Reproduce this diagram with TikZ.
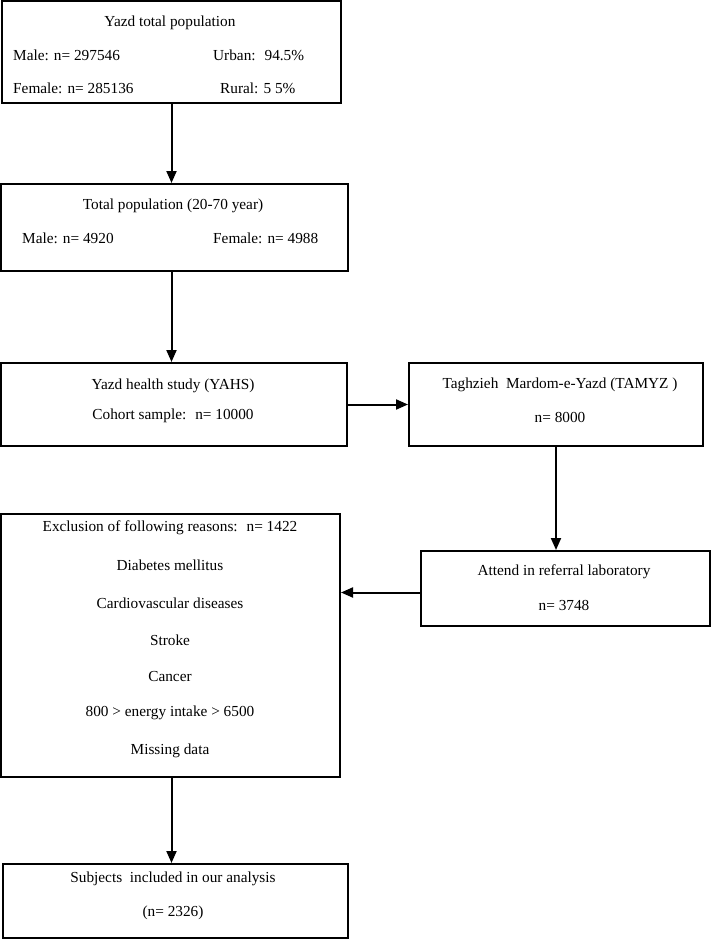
\documentclass[tikz,border=0pt]{standalone}
\usepackage{fontspec}
\setmainfont{Liberation Serif}
\usetikzlibrary{arrows.meta,positioning}

\tikzset{
  box/.style={draw, line width=2pt, inner sep=0pt, anchor=north west},
  lbl/.style={font=\fontsize{15.3}{17}\selectfont, inner sep=0pt},
  arr/.style={-{Triangle[length=12pt,width=10pt]}, line width=2pt}
}

\begin{document}
\begin{tikzpicture}[x=1pt,y=-1pt]
\useasboundingbox (0,0) rectangle (710,939);
% boxes
\node[box, minimum width=339pt, minimum height=102pt] (pop) at (1,0) {};
\node[box, minimum width=347pt, minimum height=87pt] (age) at (0,183) {};
\node[box, minimum width=346pt, minimum height=83pt] (yahs) at (0,362) {};
\node[box, minimum width=294pt, minimum height=83pt] (tamyz) at (408,362) {};
\node[box, minimum width=289pt, minimum height=75pt] (lab) at (420,550) {};
\node[box, minimum width=339pt, minimum height=263pt] (excl) at (0,513) {};
\node[box, minimum width=345pt, minimum height=74pt] (subj) at (2,863) {};
% texts
\node[lbl] (popt) at (170,23) {Yazd total population};
\node[lbl, anchor=west] (popm) at (13,55) {Male: n= 297546};
\node[lbl, anchor=west] (popu) at (213,55) {Urban:~ 94.5\%};
\node[lbl, anchor=west] (popf) at (13,88) {Female: n= 285136};
\node[lbl, anchor=west] (popr) at (220,88) {Rural: 5 5\%};
\node[lbl] (aget) at (173,206) {Total population (20-70 year)};
\node[lbl, anchor=west] (agem) at (22,238) {Male: n= 4920};
\node[lbl, anchor=west] (agef) at (213,238) {Female: n= 4988};
\node[lbl] (yahst) at (173,386) {Yazd health study (YAHS)};
\node[lbl] (yahsn) at (173,416) {Cohort sample:~ n= 10000};
\node[lbl] (tamyzt) at (560,385) {Taghzieh~ Mardom-e-Yazd (TAMYZ )};
\node[lbl] (tamyzn) at (560,417) {n= 8000};
\node[lbl] (labt) at (564,572) {Attend in referral laboratory};
\node[lbl] (labn) at (564,605) {n= 3748};
\node[lbl] (excl1) at (170,528) {Exclusion of following reasons:~ n= 1422};
\node[lbl] (excl2) at (170,565) {Diabetes mellitus};
\node[lbl] (excl3) at (170,603) {Cardiovascular diseases};
\node[lbl] (excl4) at (170,640) {Stroke};
\node[lbl] (excl5) at (170,677) {Cancer};
\node[lbl] (excl6) at (170,713) {800 > energy intake > 6500};
\node[lbl] (excl7) at (170,751) {Missing data};
\node[lbl] (subjt) at (173,879) {Subjects~ included in our analysis};
\node[lbl] (subjn) at (173,913) {(n= 2326)};
% arrows
\draw[arr] (pop.south) -- (pop.south |- age.north);
\draw[arr] (pop.south |- age.south) -- (pop.south |- yahs.north);
\draw[arr] (yahs.east) -- (tamyz.west);
\draw[arr] (tamyz.south) -- (tamyz.south |- lab.north);
\draw[arr] ([yshift=-4pt]lab.west) -- ([yshift=-4pt]lab.west -| excl.east);
\draw[arr] (excl.south -| pop.south) -- (pop.south |- subj.north);
\end{tikzpicture}
\end{document}
